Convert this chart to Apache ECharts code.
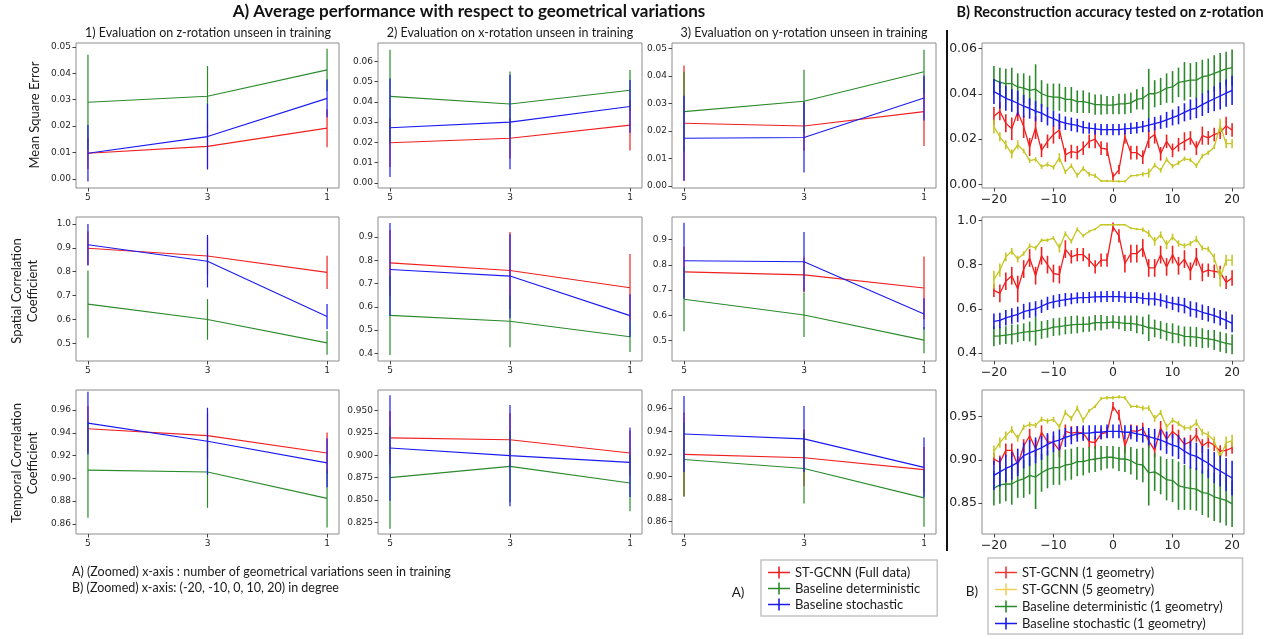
<!DOCTYPE html>
<html>
<head>
<meta charset="utf-8">
<title>Average performance and reconstruction accuracy</title>
<style>
  html, body { margin: 0; padding: 0; background: #fff; }
  #chart { width: 1267px; height: 639px; }
</style>
<script src="https://cdn.jsdelivr.net/npm/echarts@6/dist/echarts.min.js"></script>
</head>
<body>
<div id="chart"></div>
<script>
// ---- A) three rows (MSE, spatial corr., temporal corr.) x three columns (z, x, y rotation)
// each panel: [ST-GCNN, deterministic, stochastic], values at 5, 3, 1 variations
const xSteps = [5, 3, 1];

const mseZ = [[0.0097, 0.0123, 0.0192], [0.0290, 0.0313, 0.0413], [0.0097, 0.0160, 0.0305]];
const mseZErr = [[0.006, 0.008, 0.0072], [0.018, 0.0115, 0.008], [0.0107, 0.0125, 0.0072]];
const mseX = [[0.0198, 0.0220, 0.0285], [0.0427, 0.0389, 0.0457], [0.0272, 0.0300, 0.0377]];
const mseXErr = [[0.012, 0.010, 0.0125], [0.023, 0.016, 0.010], [0.0243, 0.0233, 0.013]];
const mseY = [[0.0228, 0.0218, 0.0270], [0.0270, 0.0308, 0.0415], [0.0173, 0.0176, 0.0320]];
const mseYErr = [[0.021, 0.009, 0.0125], [0.0145, 0.0115, 0.008], [0.0155, 0.0128, 0.0082]];

const scZ = [[0.898, 0.866, 0.797], [0.664, 0.600, 0.502], [0.913, 0.844, 0.612]];
const scZErr = [[0.07, 0.08, 0.07], [0.141, 0.085, 0.05], [0.087, 0.11, 0.053]];
const scX = [[0.789, 0.756, 0.682], [0.563, 0.538, 0.471], [0.760, 0.732, 0.562]];
const scXErr = [[0.14, 0.165, 0.145], [0.17, 0.112, 0.065], [0.2, 0.18, 0.092]];
const scY = [[0.772, 0.760, 0.708], [0.663, 0.601, 0.501], [0.816, 0.812, 0.605]];
const scYErr = [[0.1, 0.07, 0.125], [0.127, 0.088, 0.052], [0.151, 0.118, 0.062]];

const tcZ = [[0.9435, 0.9375, 0.9222], [0.9072, 0.9055, 0.8823], [0.9485, 0.9325, 0.9135]];
const tcZErr = [[0.02, 0.02, 0.018], [0.042, 0.0315, 0.0255], [0.0275, 0.0295, 0.0215]];
const tcX = [[0.9193, 0.9172, 0.9025], [0.8750, 0.8875, 0.8690], [0.9080, 0.8995, 0.8920]];
const tcXErr = [[0.03, 0.03, 0.025], [0.057, 0.04, 0.0315], [0.059, 0.0565, 0.0388]];
const tcY = [[0.9195, 0.9165, 0.9060], [0.9150, 0.9070, 0.8810], [0.9375, 0.9332, 0.9080]];
const tcYErr = [[0.037, 0.025, 0.02], [0.033, 0.031, 0.0255], [0.0337, 0.0292, 0.0264]];

// ---- B) z-rotation in degree, series: [ST-GCNN 1 geo, ST-GCNN 5 geo, deterministic, stochastic]
const degrees = [-20, -19, -18, -17, -16, -15, -14, -13, -12, -11, -10, -9, -8, -7, -6, -5, -4, -3, -2, -1,
  0, 1, 2, 3, 4, 5, 6, 7, 8, 9, 10, 11, 12, 13, 14, 15, 16, 17, 18, 19, 20];

const bMseRed = [0.0301, 0.0323, 0.027, 0.0245, 0.032, 0.0255, 0.0165, 0.025, 0.015, 0.019,
  0.022, 0.024, 0.013, 0.0145, 0.014, 0.016, 0.019, 0.020, 0.016, 0.0155,
  0.0032, 0.0065, 0.021, 0.014, 0.014, 0.012, 0.020, 0.022, 0.0135, 0.019,
  0.015, 0.0175, 0.019, 0.0205, 0.016, 0.0215, 0.0205, 0.022, 0.023, 0.0258, 0.024];
const bMseRedErr = [0.004, 0.004, 0.004, 0.005, 0.004, 0.005, 0.004, 0.005, 0.003, 0.003,
  0.004, 0.004, 0.003, 0.003, 0.003, 0.003, 0.003, 0.004, 0.003, 0.003,
  0.002, 0.002, 0.003, 0.003, 0.003, 0.003, 0.004, 0.004, 0.003, 0.003,
  0.003, 0.003, 0.004, 0.003, 0.003, 0.004, 0.003, 0.003, 0.003, 0.004, 0.003];
const bMseYellow = [0.0255, 0.021, 0.0175, 0.0135, 0.0175, 0.0148, 0.0105, 0.011, 0.0078, 0.0088,
  0.0075, 0.0118, 0.0055, 0.0082, 0.004, 0.007, 0.0045, 0.0038, 0.0015, 0.0015,
  0.0014, 0.0013, 0.0013, 0.0038, 0.004, 0.0045, 0.005, 0.0085, 0.0062, 0.011,
  0.008, 0.0095, 0.0113, 0.0108, 0.0082, 0.0125, 0.014, 0.0165, 0.026, 0.018, 0.018];
const bMseYellowErr = [0.003, 0.002, 0.002, 0.002, 0.002, 0.001, 0.001, 0.001, 0.001, 0.001,
  0.001, 0.002, 0.001, 0.001, 0.001, 0.001, 0.001, 0.001, 0.0005, 0.0005,
  0.0005, 0.0005, 0.0005, 0.0005, 0.0005, 0.001, 0.002, 0.001, 0.001, 0.001,
  0.001, 0.001, 0.001, 0.001, 0.001, 0.001, 0.001, 0.001, 0.003, 0.002, 0.002];
const bMseGreen = [0.0462, 0.045, 0.0445, 0.0445, 0.043, 0.0425, 0.0415, 0.042, 0.040, 0.039,
  0.0385, 0.0385, 0.0375, 0.0375, 0.0365, 0.0365, 0.036, 0.0352, 0.0352, 0.035,
  0.035, 0.0355, 0.0355, 0.036, 0.0375, 0.038, 0.040, 0.040, 0.041, 0.0425,
  0.043, 0.045, 0.0455, 0.046, 0.046, 0.0475, 0.048, 0.049, 0.050, 0.051, 0.0515];
const bMseGreenErr = [0.006, 0.0065, 0.0065, 0.007, 0.006, 0.0065, 0.0065, 0.011, 0.006, 0.0055,
  0.006, 0.006, 0.0055, 0.0055, 0.005, 0.005, 0.0045, 0.0045, 0.0045, 0.004,
  0.004, 0.0045, 0.0045, 0.0045, 0.0045, 0.005, 0.011, 0.006, 0.006, 0.0065,
  0.007, 0.0065, 0.0085, 0.0075, 0.008, 0.0075, 0.0075, 0.008, 0.008, 0.0075, 0.008];
const bMseBlue = [0.041, 0.0395, 0.038, 0.037, 0.0358, 0.0345, 0.0335, 0.0323, 0.0315, 0.030,
  0.029, 0.0278, 0.027, 0.0265, 0.026, 0.0252, 0.0248, 0.0245, 0.0242, 0.0242,
  0.0242, 0.0242, 0.0245, 0.0247, 0.025, 0.0255, 0.0262, 0.0268, 0.0275, 0.0285,
  0.0295, 0.0305, 0.0318, 0.033, 0.0337, 0.0352, 0.0365, 0.0378, 0.039, 0.0403, 0.0415];
const bMseBlueErr = [0.0055, 0.006, 0.0055, 0.005, 0.0055, 0.005, 0.0045, 0.0045, 0.004, 0.004,
  0.0035, 0.0035, 0.003, 0.003, 0.003, 0.0028, 0.0025, 0.0025, 0.0025, 0.0025,
  0.0025, 0.0025, 0.0025, 0.0025, 0.0025, 0.0025, 0.003, 0.003, 0.003, 0.0035,
  0.0035, 0.004, 0.004, 0.0045, 0.0045, 0.005, 0.005, 0.0055, 0.006, 0.006, 0.0065];

const bScRed = [0.684, 0.67, 0.725, 0.75, 0.69, 0.78, 0.83, 0.75, 0.84, 0.80,
  0.76, 0.755, 0.87, 0.835, 0.845, 0.845, 0.82, 0.79, 0.82, 0.82,
  0.97, 0.93, 0.805, 0.85, 0.85, 0.875, 0.785, 0.785, 0.845, 0.79,
  0.845, 0.795, 0.825, 0.77, 0.835, 0.765, 0.775, 0.77, 0.765, 0.72, 0.74];
const bScRedErr = [0.03, 0.04, 0.04, 0.04, 0.06, 0.04, 0.04, 0.04, 0.04, 0.04,
  0.04, 0.04, 0.04, 0.03, 0.03, 0.03, 0.03, 0.03, 0.03, 0.03,
  0.02, 0.03, 0.04, 0.04, 0.04, 0.04, 0.04, 0.04, 0.04, 0.04,
  0.04, 0.04, 0.04, 0.04, 0.04, 0.04, 0.03, 0.03, 0.03, 0.03, 0.035];
const bScYellow = [0.732, 0.775, 0.835, 0.86, 0.825, 0.85, 0.885, 0.875, 0.91, 0.91,
  0.92, 0.875, 0.94, 0.905, 0.96, 0.93, 0.95, 0.96, 0.98, 0.98,
  0.98, 0.98, 0.98, 0.965, 0.96, 0.958, 0.94, 0.905, 0.935, 0.89,
  0.925, 0.895, 0.885, 0.895, 0.915, 0.875, 0.87, 0.83, 0.74, 0.82, 0.82];
const bScYellowErr = [0.04, 0.03, 0.02, 0.015, 0.015, 0.01, 0.01, 0.01, 0.008, 0.008,
  0.008, 0.02, 0.01, 0.01, 0.008, 0.008, 0.005, 0.005, 0.003, 0.003,
  0.003, 0.003, 0.003, 0.005, 0.005, 0.01, 0.015, 0.02, 0.015, 0.02,
  0.015, 0.015, 0.012, 0.012, 0.015, 0.012, 0.012, 0.02, 0.04, 0.025, 0.025];
const bScGreen = [0.477, 0.478, 0.482, 0.485, 0.49, 0.495, 0.498, 0.50, 0.505, 0.51,
  0.518, 0.52, 0.525, 0.528, 0.53, 0.53, 0.532, 0.538, 0.538, 0.538,
  0.542, 0.538, 0.535, 0.535, 0.53, 0.525, 0.515, 0.512, 0.505, 0.497,
  0.49, 0.485, 0.476, 0.475, 0.473, 0.468, 0.465, 0.46, 0.452, 0.445, 0.44];
const bScGreenErr = [0.045, 0.04, 0.04, 0.045, 0.04, 0.04, 0.045, 0.065, 0.04, 0.04,
  0.04, 0.04, 0.04, 0.04, 0.04, 0.035, 0.035, 0.035, 0.035, 0.03,
  0.03, 0.03, 0.035, 0.035, 0.04, 0.04, 0.06, 0.04, 0.04, 0.04,
  0.045, 0.04, 0.045, 0.045, 0.045, 0.045, 0.04, 0.045, 0.045, 0.045, 0.045];
const bScBlue = [0.544, 0.548, 0.56, 0.568, 0.575, 0.588, 0.595, 0.60, 0.612, 0.625,
  0.632, 0.638, 0.642, 0.646, 0.65, 0.651, 0.652, 0.654, 0.655, 0.656,
  0.656, 0.656, 0.653, 0.652, 0.652, 0.648, 0.645, 0.645, 0.64, 0.632,
  0.625, 0.62, 0.615, 0.60, 0.595, 0.585, 0.578, 0.57, 0.56, 0.548, 0.535];
const bScBlueErr = [0.035, 0.035, 0.035, 0.035, 0.035, 0.035, 0.035, 0.035, 0.03, 0.03,
  0.03, 0.03, 0.03, 0.025, 0.025, 0.025, 0.025, 0.025, 0.025, 0.025,
  0.025, 0.025, 0.025, 0.025, 0.025, 0.025, 0.03, 0.03, 0.03, 0.03,
  0.03, 0.035, 0.035, 0.035, 0.035, 0.035, 0.035, 0.035, 0.035, 0.04, 0.04];

const bTcRed = [0.901, 0.897, 0.911, 0.911, 0.894, 0.916, 0.928, 0.913, 0.932, 0.921,
  0.92, 0.911, 0.933, 0.931, 0.932, 0.931, 0.921, 0.92, 0.93, 0.932,
  0.962, 0.952, 0.916, 0.934, 0.933, 0.936, 0.922, 0.911, 0.937, 0.924,
  0.933, 0.927, 0.918, 0.921, 0.929, 0.916, 0.921, 0.917, 0.91, 0.911, 0.914];
const bTcRedErr = [0.007, 0.008, 0.008, 0.008, 0.01, 0.008, 0.008, 0.01, 0.008, 0.008,
  0.008, 0.008, 0.008, 0.008, 0.007, 0.007, 0.007, 0.007, 0.006, 0.006,
  0.005, 0.006, 0.008, 0.007, 0.007, 0.007, 0.008, 0.008, 0.008, 0.008,
  0.008, 0.008, 0.008, 0.008, 0.008, 0.008, 0.007, 0.007, 0.007, 0.007, 0.007];
const bTcYellow = [0.9097, 0.92, 0.928, 0.935, 0.925, 0.938, 0.941, 0.94, 0.947, 0.945,
  0.947, 0.938, 0.955, 0.948, 0.96, 0.946, 0.957, 0.962, 0.971, 0.972,
  0.972, 0.973, 0.972, 0.962, 0.962, 0.96, 0.96, 0.948, 0.955, 0.938,
  0.946, 0.942, 0.937, 0.937, 0.943, 0.932, 0.929, 0.922, 0.902, 0.92, 0.922];
const bTcYellowErr = [0.007, 0.006, 0.005, 0.004, 0.004, 0.003, 0.003, 0.003, 0.003, 0.003,
  0.003, 0.004, 0.003, 0.003, 0.003, 0.003, 0.002, 0.002, 0.002, 0.002,
  0.002, 0.002, 0.002, 0.002, 0.002, 0.003, 0.003, 0.004, 0.003, 0.004,
  0.003, 0.003, 0.003, 0.003, 0.004, 0.004, 0.004, 0.005, 0.007, 0.007, 0.007];
const bTcGreen = [0.867, 0.871, 0.872, 0.872, 0.876, 0.878, 0.882, 0.88, 0.885, 0.889,
  0.891, 0.891, 0.894, 0.895, 0.898, 0.898, 0.90, 0.901, 0.902, 0.903,
  0.903, 0.901, 0.901, 0.899, 0.895, 0.894, 0.885, 0.886, 0.882, 0.877,
  0.876, 0.87, 0.868, 0.867, 0.866, 0.862, 0.861, 0.857, 0.855, 0.853, 0.849];
const bTcGreenErr = [0.02, 0.022, 0.02, 0.024, 0.02, 0.022, 0.022, 0.037, 0.022, 0.022,
  0.02, 0.02, 0.018, 0.018, 0.017, 0.016, 0.015, 0.015, 0.014, 0.013,
  0.013, 0.014, 0.015, 0.016, 0.018, 0.02, 0.038, 0.022, 0.022, 0.024,
  0.025, 0.028, 0.026, 0.025, 0.025, 0.026, 0.028, 0.028, 0.028, 0.029, 0.027];
const bTcBlue = [0.882, 0.886, 0.89, 0.893, 0.897, 0.905, 0.908, 0.911, 0.914, 0.918,
  0.921, 0.923, 0.926, 0.928, 0.93, 0.931, 0.931, 0.932, 0.932, 0.933,
  0.933, 0.933, 0.932, 0.932, 0.93, 0.929, 0.927, 0.925, 0.923, 0.92,
  0.917, 0.915, 0.91, 0.906, 0.904, 0.90, 0.896, 0.891, 0.887, 0.883, 0.879];
const bTcBlueErr = [0.017, 0.017, 0.016, 0.016, 0.016, 0.015, 0.015, 0.015, 0.014, 0.013,
  0.012, 0.012, 0.011, 0.01, 0.009, 0.009, 0.009, 0.008, 0.008, 0.008,
  0.008, 0.008, 0.008, 0.008, 0.009, 0.009, 0.01, 0.011, 0.012, 0.013,
  0.013, 0.014, 0.015, 0.016, 0.016, 0.016, 0.017, 0.018, 0.018, 0.019, 0.02];

// tick labels
const xTicksA = [5, 3, 1];
const xTicksB = [-20, -10, 0, 10, 20];
const yTicksMse5 = [0, 0.01, 0.02, 0.03, 0.04, 0.05];
const yTicksMse6 = [0, 0.01, 0.02, 0.03, 0.04, 0.05, 0.06];
const yTicksScZ = [0.5, 0.6, 0.7, 0.8, 0.9, 1.0];
const yTicksScX = [0.4, 0.5, 0.6, 0.7, 0.8, 0.9];
const yTicksScY = [0.5, 0.6, 0.7, 0.8, 0.9];
const yTicksTcZ = [0.86, 0.88, 0.90, 0.92, 0.94, 0.96, 0.98];
const yTicksTcX = [0.825, 0.85, 0.875, 0.9, 0.925, 0.95];
const yTicksTcY = [0.86, 0.88, 0.90, 0.92, 0.94, 0.96];
const yTicksBMse = [0, 0.02, 0.04, 0.06];
const yTicksBSc = [0.4, 0.6, 0.8, 1.0];
const yTicksBTc = [0.85, 0.90, 0.95];

const namesA = ['ST-GCNN (Full data)', 'Baseline deterministic', 'Baseline stochastic'];
const namesB = ['ST-GCNN (1 geometry)', 'ST-GCNN (5 geometry)', 'Baseline deterministic (1 geometry)', 'Baseline stochastic (1 geometry)'];
const colorsA = ['#f02020', '#2b8a2b', '#1a1af0'];
const colorsB = ['#f02020', '#c6c626', '#2b8a2b', '#1a1af0'];
const legendColorsB = ['#f03a3a', '#f4cf5c', '#2b8a2b', '#1a1af0'];

// layout (px)
const colLeft = [76, 378, 672, 982];
const colWidth = [263, 264, 264, 262];
const rowTop = [43, 217, 390];
const rowHeight = [145, 144, 144];

const tickFont = 'DejaVu Sans';
const textFont = 'Lato';

const grids = [];
const xAxes = [];
const yAxes = [];
const series = [];

function addPanel(row, col, xs, means, errs, colors, names, yMin, yMax, yTicks, dec) {
  const g = grids.length;
  const isB = col === 3;
  const fs = isB ? 12.5 : 9;
  grids.push({
    left: colLeft[col], top: rowTop[row], width: colWidth[col], height: rowHeight[row],
    show: true, borderColor: '#8c8c8c', borderWidth: 1, backgroundColor: 'transparent',
    containLabel: false, outerBoundsMode: 'none'
  });
  xAxes.push({
    type: 'value', gridIndex: g, position: 'bottom',
    min: isB ? -22 : 0.8, max: isB ? 22 : 5.2, inverse: !isB,
    axisLine: { show: false, onZero: false }, splitLine: { show: false },
    axisTick: { show: true, customValues: isB ? xTicksB : xTicksA, length: 3.5, lineStyle: { color: '#444', width: 1 } },
    axisLabel: {
      customValues: isB ? xTicksB : xTicksA, fontSize: fs, fontFamily: tickFont, color: '#262626', margin: 5,
      formatter: v => (v < 0 ? '\u2212' + Math.abs(v) : String(v))
    }
  });
  yAxes.push({
    type: 'value', gridIndex: g, position: 'left', min: yMin, max: yMax,
    axisLine: { show: false, onZero: false }, splitLine: { show: false },
    axisTick: { show: true, customValues: yTicks, length: 3.5, lineStyle: { color: '#444', width: 1 } },
    axisLabel: { customValues: yTicks, fontSize: fs, fontFamily: tickFont, color: '#262626', margin: 5,
      formatter: v => v.toFixed(dec) }
  });
  const lw = isB ? 1.3 : 1.1;
  const ew = isB ? 1.6 : 1.2;
  means.forEach((m, i) => {
    const color = colors[i];
    series.push({
      type: 'line', xAxisIndex: g, yAxisIndex: g, silent: true,
      data: xs.map((x, j) => [x, m[j]]),
      symbol: 'none', lineStyle: { color: color, width: lw }, itemStyle: { color: color },
      z: 2 + i
    });
    series.push({
      type: 'custom', name: names[i], xAxisIndex: g, yAxisIndex: g, silent: true,
      data: xs.map((x, j) => [x, m[j] - errs[i][j], m[j] + errs[i][j]]),
      encode: { x: 0, y: [1, 2] },
      itemStyle: { color: color },
      renderItem: (params, api) => {
        const lo = api.coord([api.value(0), api.value(1)]);
        const hi = api.coord([api.value(0), api.value(2)]);
        return {
          type: 'line',
          shape: { x1: lo[0], y1: lo[1], x2: hi[0], y2: hi[1] },
          style: { stroke: color, lineWidth: ew }
        };
      },
      z: 2 + i
    });
  });
}

addPanel(0, 0, xSteps, mseZ, mseZErr, colorsA, namesA, -0.0035, 0.0515, yTicksMse5, 2);
addPanel(0, 1, xSteps, mseX, mseXErr, colorsA, namesA, -0.0025, 0.069, yTicksMse6, 2);
addPanel(0, 2, xSteps, mseY, mseYErr, colorsA, namesA, -0.0008, 0.052, yTicksMse5, 2);
addPanel(0, 3, degrees, [bMseRed, bMseYellow, bMseGreen, bMseBlue],
  [bMseRedErr, bMseYellowErr, bMseGreenErr, bMseBlueErr], colorsB, namesB, -0.0016, 0.0624, yTicksBMse, 2);

addPanel(1, 0, xSteps, scZ, scZErr, colorsA, namesA, 0.426, 1.029, yTicksScZ, 1);
addPanel(1, 1, xSteps, scX, scXErr, colorsA, namesA, 0.367, 0.986, yTicksScX, 1);
addPanel(1, 2, xSteps, scY, scYErr, colorsA, namesA, 0.418, 0.99, yTicksScY, 1);
addPanel(1, 3, degrees, [bScRed, bScYellow, bScGreen, bScBlue],
  [bScRedErr, bScYellowErr, bScGreenErr, bScBlueErr], colorsB, namesB, 0.365, 1.015, yTicksBSc, 1);

addPanel(2, 0, xSteps, tcZ, tcZErr, colorsA, namesA, 0.851, 0.9776, yTicksTcZ, 2);
addPanel(2, 1, xSteps, tcX, tcXErr, colorsA, namesA, 0.812, 0.9728, yTicksTcX, 3);
addPanel(2, 2, xSteps, tcY, tcYErr, colorsA, namesA, 0.849, 0.9765, yTicksTcY, 2);
addPanel(2, 3, degrees, [bTcRed, bTcYellow, bTcGreen, bTcBlue],
  [bTcRedErr, bTcYellowErr, bTcGreenErr, bTcBlueErr], colorsB, namesB, 0.814, 0.981, yTicksBTc, 2);

// errorbar-like legend marker: horizontal line crossed by a vertical tick
const crossIcon = 'path://M0,5.2H22V6.8H0Z M10.2,0H11.8V12H10.2Z';

function legendBlock(names, colors, left, top, padding, gap) {
  return {
    orient: 'vertical', left: left, top: top, padding: padding, itemGap: gap,
    itemWidth: 22, itemHeight: 12, selectedMode: false,
    borderColor: '#c4c4c4', borderWidth: 1.5, backgroundColor: '#fff',
    textStyle: { fontFamily: textFont, fontSize: 13, color: '#1a1a1a' },
    data: names.map((n, i) => ({ name: n, icon: crossIcon, itemStyle: { color: colors[i] } }))
  };
}

function label(text, x, y, size, extra) {
  return {
    type: 'text', x: x, y: y, silent: true, rotation: (extra && extra.rotation) || 0,
    style: Object.assign({
      text: text, fontFamily: textFont, fontSize: size, fill: '#1a1a1a', align: 'center', verticalAlign: 'middle'
    }, (extra && extra.style) || {})
  };
}

const chart = echarts.init(document.getElementById('chart'), null, { renderer: 'canvas' });

chart.setOption({
  animation: false,
  backgroundColor: '#ffffff',
  grid: grids,
  xAxis: xAxes,
  yAxis: yAxes,
  series: series,
  legend: [
    legendBlock(namesA, colorsA, 761, 560, [6, 17, 5, 7], 3),
    legendBlock(namesB, legendColorsB, 988, 558, [8, 20, 4, 7], 4)
  ],
  graphic: [
    label('A) Average performance with respect to geometrical variations', 469, 12, 17,
      { style: { fontWeight: 'bold', fill: '#111' } }),
    label('B) Reconstruction accuracy tested on z-rotation', 1110, 12, 14.5,
      { style: { fontWeight: 'bold', fill: '#111' } }),
    label('1) Evaluation on z-rotation unseen in training', 208, 33, 12.5),
    label('2) Evaluation on x-rotation unseen in training', 510, 33, 12.5),
    label('3) Evaluation on y-rotation unseen in training', 804, 33, 12.5),
    label('Mean Square Error', 35, 115, 13, { rotation: Math.PI / 2 }),
    label('Spatial Correlation\nCoefficient', 25, 291, 13, { rotation: Math.PI / 2, style: { lineHeight: 16 } }),
    label('Temporal Correlation\nCoefficient', 25, 463, 13, { rotation: Math.PI / 2, style: { lineHeight: 16 } }),
    label('A) (Zoomed) x-axis : number of geometrical variations seen in training', 72, 572, 12.5,
      { style: { align: 'left' } }),
    label('B) (Zoomed) x-axis: (-20, -10, 0, 10, 20) in degree', 72, 588, 12.5,
      { style: { align: 'left' } }),
    label('A)', 738, 593, 13.5),
    label('B)', 972, 592, 13.5),
    {
      type: 'line', silent: true,
      shape: { x1: 947, y1: 30, x2: 947, y2: 551 },
      style: { stroke: '#111', lineWidth: 2 }
    }
  ]
});

window.addEventListener('resize', () => chart.resize());
</script>
</body>
</html>
